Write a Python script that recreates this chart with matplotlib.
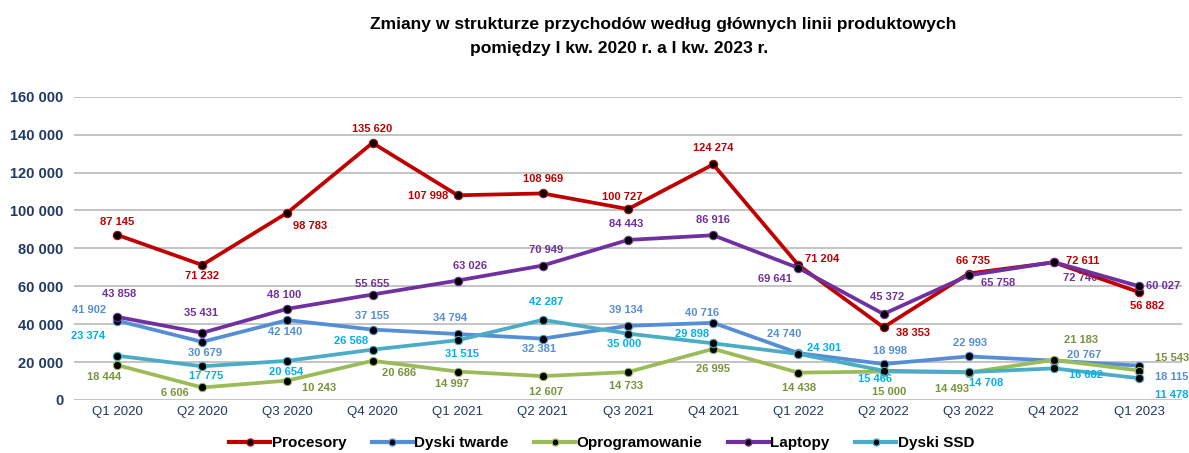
import matplotlib
matplotlib.use("Agg")
import matplotlib.pyplot as plt
from matplotlib.ticker import FuncFormatter, MultipleLocator
from matplotlib.lines import Line2D

categories = ["Q1 2020", "Q2 2020", "Q3 2020", "Q4 2020", "Q1 2021", "Q2 2021", "Q3 2021",
              "Q4 2021", "Q1 2022", "Q2 2022", "Q3 2022", "Q4 2022", "Q1 2023"]

procesory = [87145, 71232, 98783, 135620, 107998, 108969, 100727, 124274, 71204, 38353, 66735, 72611, 56882]
dyski_twarde = [41902, 30679, 42140, 37155, 34794, 32381, 39134, 40716, 24740, 18998, 22993, 20767, 18115]
oprogramowanie = [18444, 6606, 10243, 20686, 14997, 12607, 14733, 26995, 14438, 15000, 14493, 21183, 15543]
laptopy = [43858, 35431, 48100, 55655, 63026, 70949, 84443, 86916, 69641, 45372, 65758, 72740, 60027]
dyski_ssd = [23374, 17775, 20654, 26568, 31515, 42287, 35000, 29898, 24301, 15466, 14708, 16682, 11478]

series_names = ["Procesory", "Dyski twarde", "Oprogramowanie", "Laptopy", "Dyski SSD"]

# label offsets in pixels (dx, dy)
off_proc = [(0, 13), (0, -11), (23, -13), (0, 14), (-30, -1), (0, 14), (-6, 12), (0, 16),
            (24, 6), (29, -6), (4, 13), (29, 1), (8, -14)]
off_hdd = [(-28, 11), (3, -11), (-2, -12), (0, 14), (-8, 16), (-4, -10), (-2, 16), (-11, 10),
           (-14, 19), (6, 13), (1, 13), (30, 6), (33, -11)]
off_soft = [(-13, -12), (-27, -6), (32, -7), (27, -12), (-6, -12), (3, -16), (-2, -14), (0, -20),
            (1, -15), (6, -20), (-17, -16), (27, 20), (33, 13)]
off_lap = [(2, 23), (-1, 20), (-3, 14), (0, 11), (12, 15), (3, 16), (-2, 16), (0, 15),
           (-23, -11), (4, 17), (29, -8), (26, -16), (24, 0)]
off_ssd = [(-29, 20), (4, -10), (-1, -11), (-21, 9), (4, -14), (3, 18), (-4, -10), (-21, 9),
           (26, 6), (-9, -8), (17, -11), (32, -7), (33, -17)]

line_colors = ["#C00000", "#558ED5", "#9BBB59", "#7030A0", "#4BACC6"]
label_colors = ["#C00000", "#558ED5", "#77933C", "#7030A0", "#00B0F0"]

data = [procesory, dyski_twarde, oprogramowanie, laptopy, dyski_ssd]
offsets = [off_proc, off_hdd, off_soft, off_lap, off_ssd]

plt.rcParams['font.family'] = ['Liberation Sans', 'DejaVu Sans']

fig = plt.figure(figsize=(11.89, 4.53), dpi=100)
ax = fig.add_axes([0.0626, 0.117, 0.9312, 0.6695])

x = list(range(len(categories)))
fmt = lambda v: f"{v:,.0f}".replace(",", " ")

for vals, name, lc, tc, offs in zip(data, series_names, line_colors, label_colors, offsets):
    ax.plot(x, vals, color=lc, lw=2.7, marker='o', ms=6, mfc='black', mec=lc, mew=0.8,
            label=name, solid_joinstyle='round', zorder=3)
    for xi, v, (dx, dy) in zip(x, vals, offs):
        ax.annotate(fmt(v), (xi, v), xytext=(dx, dy), textcoords='offset pixels',
                    ha='center', va='center', fontsize=8, fontweight='bold', color=tc, zorder=5)

ax.set_xlim(-0.5, len(categories) - 0.5)
ax.set_ylim(0, 160000)
ax.yaxis.set_major_locator(MultipleLocator(20000))
ax.yaxis.set_major_formatter(FuncFormatter(lambda v, p: fmt(v)))
ax.set_xticks(x)
ax.set_xticklabels(categories, fontsize=9.5, color="#1F3864")
for lab in ax.get_yticklabels():
    lab.set_fontweight('bold')
    lab.set_fontsize(10.5)
    lab.set_color("#1F3864")
ax.tick_params(axis='both', length=0)
ax.tick_params(axis='y', pad=8)
ax.tick_params(axis='x', pad=4)
ax.grid(axis='y', color='#BFBFBF', lw=1.3)
ax.set_axisbelow(True)
for s in ax.spines.values():
    s.set_visible(False)

fig.text(0.5576, 0.947, "Zmiany w strukturze przychodów według głównych linii produktowych",
         ha='center', va='center', fontsize=12.6, fontweight='bold', color='black')
fig.text(0.5206, 0.893, "pomiędzy I kw. 2020 r. a I kw. 2023 r.",
         ha='center', va='center', fontsize=12.6, fontweight='bold', color='black')

handles = [Line2D([0], [0], color=lc, lw=3, marker='o', ms=5, mfc='black', mec=lc)
           for lc in line_colors]
fig.legend(handles, series_names, loc='center', bbox_to_anchor=(0.506, 0.022), ncol=5,
           frameon=False, handlelength=2.7, columnspacing=1.65, handletextpad=0.1,
           prop={'weight': 'bold', 'size': 11})

fig.savefig("out.png", dpi=100)
